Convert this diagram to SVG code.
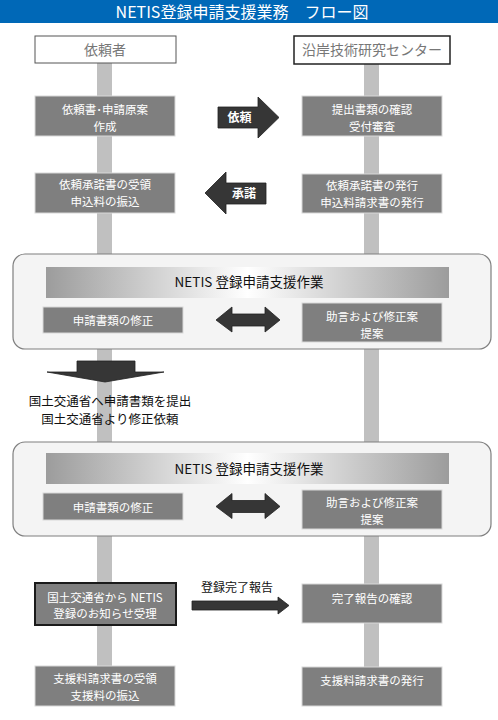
<svg xmlns="http://www.w3.org/2000/svg" width="498" height="720" viewBox="0 0 498 720">
<style>
text{font-family:"Noto Sans CJK JP","Noto Sans",sans-serif;text-anchor:middle}
.box{fill:#7f7f7f;stroke:#d8d8d8;stroke-width:1}
.bt{fill:#fff;font-size:11.5px}
.bar{fill:#c0c0c0}
.arr{fill:#363636;stroke:#222;stroke-width:0.8}
.cont{fill:#f4f4f4;stroke:#7f7f7f;stroke-width:1.2}
.ban{fill:url(#g)}
.bant{fill:#111;font-size:13.5px}
.lab{fill:#111;font-size:12.5px}
</style>
<defs>
<linearGradient id="g" x1="0" x2="1" y1="0" y2="0">
<stop offset="0" stop-color="#9c9c9c"/>
<stop offset="0.5" stop-color="#ffffff"/>
<stop offset="1" stop-color="#9c9c9c"/>
</linearGradient>
</defs>
<rect x="0" y="0" width="498" height="720" fill="#fff"/>
<g id="title">
<rect x="0" y="0" width="498" height="23" fill="#0068b7"/>
<text x="242" y="18" style="fill:#fff;font-size:16px">NETIS登録申請支援業務　フロー図</text>
</g>
<g id="lanes">
<rect class="bar" x="97" y="63" width="15" height="603"/>
<rect class="bar" x="364" y="64" width="15" height="603"/>
</g>
<g id="h-client">
<rect x="35" y="36" width="141" height="27" fill="#fff" stroke="#555" stroke-width="1"/>
<text x="105" y="55" style="fill:#777;font-size:14px">依頼者</text>
</g>
<g id="h-center">
<rect x="294" y="36" width="156" height="28" fill="#fff" stroke="#222" stroke-width="1.5"/>
<text x="372" y="55" style="fill:#777;font-size:14px">沿岸技術研究センター</text>
</g>
<g id="n1">
<rect class="box" x="35" y="96" width="140" height="40"/>
<text class="bt" x="105" y="114">依頼書･申請原案</text>
<text class="bt" x="105" y="131">作成</text>
</g>
<g id="n2">
<rect class="box" x="302" y="96" width="140" height="40"/>
<text class="bt" x="372" y="114">提出書類の確認</text>
<text class="bt" x="372" y="131">受付審査</text>
</g>
<g id="n3">
<rect class="box" x="35" y="173" width="140" height="40"/>
<text class="bt" x="105" y="189">依頼承諾書の受領</text>
<text class="bt" x="105" y="205.5">申込料の振込</text>
</g>
<g id="n4">
<rect class="box" x="302" y="174" width="140" height="39"/>
<text class="bt" x="372" y="190">依頼承諾書の発行</text>
<text class="bt" x="372" y="206.5">申込料請求書の発行</text>
</g>
<g id="w1">
<rect class="cont" x="13" y="254" width="478" height="95" rx="12"/>
<rect class="ban" x="46" y="267" width="403" height="31"/>
<text class="bant" x="249" y="287">NETIS 登録申請支援作業</text>
<rect class="box" x="43" y="307" width="140" height="26"/>
<text class="bt" x="113" y="324.5">申請書類の修正</text>
<rect class="box" x="302" y="303" width="140" height="39"/>
<text class="bt" x="372" y="321">助言および修正案</text>
<text class="bt" x="372" y="337.5">提案</text>
</g>
<g id="note">
<text class="lab" x="110" y="405.5">国土交通省へ申請書類を提出</text>
<text class="lab" x="110" y="424">国土交通省より修正依頼</text>
</g>
<g id="w2">
<rect class="cont" x="13" y="442" width="478" height="94" rx="12"/>
<rect class="ban" x="46" y="453" width="403" height="31"/>
<text class="bant" x="249" y="474">NETIS 登録申請支援作業</text>
<rect class="box" x="43" y="493" width="140" height="27"/>
<text class="bt" x="113" y="511.5">申請書類の修正</text>
<rect class="box" x="302" y="490" width="140" height="39"/>
<text class="bt" x="372" y="507">助言および修正案</text>
<text class="bt" x="372" y="523.5">提案</text>
</g>
<g id="n5">
<rect x="35" y="583" width="141" height="42" fill="#7f7f7f" stroke="#1a1a1a" stroke-width="2"/>
<text class="bt" x="105" y="601.5">国土交通省から NETIS</text>
<text class="bt" x="105" y="618">登録のお知らせ受理</text>
</g>
<g id="n6">
<rect class="box" x="302" y="584" width="140" height="39"/>
<text class="bt" x="372" y="602.5">完了報告の確認</text>
</g>
<g id="n7">
<rect class="box" x="35" y="666" width="140" height="40"/>
<text class="bt" x="105" y="683">支援料請求書の受領</text>
<text class="bt" x="105" y="699.5">支援料の振込</text>
</g>
<g id="n8">
<rect class="box" x="302" y="667" width="140" height="39"/>
<text class="bt" x="372" y="684.5">支援料請求書の発行</text>
</g>
<g id="connectors">
<polygon class="arr" points="218,107 258,107 258,97 279,117.5 258,138 258,128 218,128"/>
<text x="239.5" y="121.5" style="fill:#fff;font-size:12px;font-weight:bold">依頼</text>
<polygon class="arr" points="266,183 226,183 226,172 205,193 226,214 226,204 266,204"/>
<text x="244" y="198" style="fill:#fff;font-size:12px;font-weight:bold">承諾</text>
<polygon class="arr" points="216,320 232,307 232,314 265,314 265,307 280,320 265,332 265,326 232,326 232,332"/>
<polygon class="arr" points="216,506.5 232,493.5 232,500.5 265,500.5 265,493.5 280,506.5 265,518.5 265,512.5 232,512.5 232,518.5"/>
<polygon class="arr" points="77,361 135,361 135,372 164,372 105,382 47,372 77,372"/>
<polygon class="arr" points="192,601 278,601 278,597 289,605.5 278,614 278,610 192,610"/>
<text x="237" y="591.5" style="fill:#111;font-size:12px">登録完了報告</text>
</g>
</svg>
